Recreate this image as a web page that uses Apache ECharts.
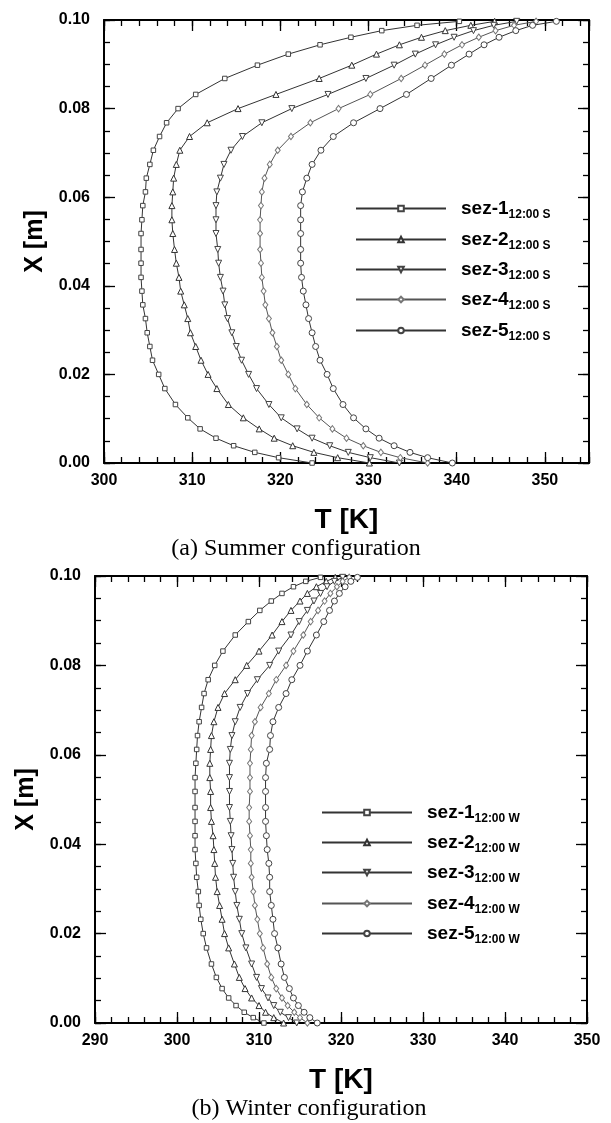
<!DOCTYPE html>
<html>
<head>
<meta charset="utf-8">
<title>Temperature profiles - summer / winter</title>
<script src="https://cdn.jsdelivr.net/npm/echarts@6/dist/echarts.min.js"></script>
<style>
  html, body { margin: 0; padding: 0; background: #fff; }
  #chart { width: 611px; height: 1123px; }
</style>
</head>
<body>
<div id="chart"></div>
<script>
// wall-normal position of the mesh nodes [m], same for every profile
const xLevels = [0.0000, 0.0012, 0.0024, 0.0039, 0.0056, 0.0077, 0.0102, 0.0132, 0.0168, 0.0200,
                 0.0232, 0.0263, 0.0294, 0.0326, 0.0357, 0.0388, 0.0419, 0.0451, 0.0482, 0.0518,
                 0.0549, 0.0581, 0.0612, 0.0643, 0.0674, 0.0706, 0.0737, 0.0768, 0.0800, 0.0832,
                 0.0868, 0.0898, 0.0923, 0.0944, 0.0961, 0.0976, 0.0988, 0.0997];

// (a) summer, 12:00 - temperature [K] at each level
const sez1Summer = [323.6, 319.8, 317.1, 314.7, 312.7, 310.9, 309.5, 308.1, 306.9, 306.2, 305.5, 305.2, 304.9, 304.7, 304.4, 304.3, 304.2, 304.2, 304.2,
                    304.2, 304.3, 304.4, 304.7, 304.8, 305.2, 305.6, 306.3, 307.1, 308.4, 310.4, 313.7, 317.4, 320.9, 324.5, 328.0, 331.5, 335.5, 340.3];
const sez2Summer = [330.1, 326.5, 323.8, 321.4, 319.3, 317.6, 315.8, 314.1, 312.8, 311.8, 311.0, 310.4, 309.8, 309.5, 309.1, 308.7, 308.5, 308.2, 308.0,
                    307.8, 307.7, 307.7, 307.8, 307.9, 308.2, 308.6, 309.7, 311.7, 315.2, 319.5, 324.4, 328.1, 330.9, 333.5, 336.0, 338.7, 341.6, 344.3];
const sez3Summer = [333.5, 330.2, 327.7, 325.6, 323.6, 321.9, 320.1, 318.7, 317.3, 316.4, 315.6, 315.0, 314.5, 314.0, 313.7, 313.5, 313.2, 313.0, 312.9,
                    312.7, 312.7, 312.7, 312.8, 313.2, 313.6, 314.4, 315.7, 317.9, 321.3, 325.4, 329.7, 332.9, 335.3, 337.6, 339.7, 341.9, 344.2, 346.8];
const sez4Summer = [336.7, 333.6, 331.4, 329.4, 327.5, 325.9, 324.4, 323.0, 321.7, 320.9, 320.1, 319.6, 319.1, 318.7, 318.3, 318.1, 317.9, 317.8, 317.7,
                    317.7, 317.7, 317.8, 317.9, 318.2, 318.8, 319.7, 321.2, 323.4, 326.6, 330.2, 333.7, 336.4, 338.6, 340.6, 342.5, 344.4, 346.5, 349.0];
const sez5Summer = [339.5, 336.7, 334.7, 332.9, 331.2, 329.7, 328.3, 327.1, 326.0, 325.3, 324.5, 324.0, 323.6, 323.2, 322.9, 322.6, 322.4, 322.3, 322.3,
                    322.3, 322.3, 322.3, 322.5, 323.0, 323.6, 324.6, 326.0, 328.3, 331.3, 334.3, 337.1, 339.4, 341.4, 343.1, 344.8, 346.7, 348.6, 351.3];

// (b) winter, 12:00
const sez1Winter = [310.6, 309.3, 308.2, 307.2, 306.3, 305.5, 304.8, 304.2, 303.6, 303.2, 302.9, 302.7, 302.6, 302.4, 302.3, 302.2, 302.2, 302.2, 302.2,
                    302.2, 302.2, 302.3, 302.4, 302.5, 302.7, 303.0, 303.3, 303.8, 304.6, 305.6, 307.1, 308.7, 310.1, 311.5, 312.8, 314.2, 315.7, 317.5];
const sez2Winter = [313.0, 311.8, 310.8, 310.0, 309.1, 308.3, 307.6, 307.0, 306.3, 305.8, 305.5, 305.2, 304.9, 304.7, 304.6, 304.5, 304.4, 304.2, 304.1,
                    304.1, 304.0, 304.0, 304.1, 304.2, 304.5, 305.0, 305.8, 307.1, 308.5, 310.0, 311.6, 312.8, 313.9, 315.0, 315.9, 317.0, 318.2, 319.3];
const sez3Winter = [314.6, 313.6, 312.6, 311.8, 311.1, 310.3, 309.7, 309.1, 308.4, 307.9, 307.6, 307.3, 307.1, 306.9, 306.8, 306.7, 306.6, 306.5, 306.4,
                    306.4, 306.4, 306.4, 306.5, 306.7, 307.1, 307.7, 308.6, 309.8, 311.3, 312.4, 313.9, 314.9, 315.9, 316.7, 317.5, 318.3, 319.2, 320.2];
const sez4Winter = [315.9, 315.0, 314.3, 313.5, 312.8, 312.1, 311.5, 311.0, 310.5, 310.1, 309.8, 309.5, 309.3, 309.1, 309.0, 309.0, 308.9, 308.8, 308.8,
                    308.9, 308.9, 308.9, 309.0, 309.1, 309.5, 310.2, 311.2, 312.1, 313.3, 314.2, 315.4, 316.3, 317.2, 318.0, 318.7, 319.5, 320.2, 321.0];
const sez5Winter = [317.1, 316.2, 315.5, 314.8, 314.2, 313.7, 313.1, 312.7, 312.3, 311.9, 311.7, 311.5, 311.3, 311.3, 311.2, 311.0, 310.9, 310.8, 310.8,
                    310.8, 310.8, 310.9, 311.3, 311.4, 311.7, 312.4, 313.3, 314.0, 315.0, 315.9, 317.0, 317.9, 318.6, 319.2, 319.8, 320.5, 321.2, 322.0];

const sections = ['sez-1', 'sez-2', 'sez-3', 'sez-4', 'sez-5'];
const summerTag = '12:00 S';
const winterTag = '12:00 W';
const xRangeSummer = [300, 355];
const xRangeWinter = [290, 350];
const yRange = [0, 0.1];

const FONT = 'Liberation Sans';
// marker look of each section (Tecplot style hollow symbols)
const markers = [
  { symbol: 'rect', size: 4.5, rotate: 0, line: '#333', edge: '#444' },
  { symbol: 'triangle', size: 6, rotate: 0, line: '#333', edge: '#333' },
  { symbol: 'triangle', size: 6, rotate: 180, line: '#333', edge: '#444' },
  { symbol: 'diamond', size: [5, 6.5], rotate: 0, line: '#555', edge: '#777' },
  { symbol: 'circle', size: 6, rotate: 0, line: '#333', edge: '#444' }
];

// one axis of the frame; major axes carry line + long ticks, minor ones only short ticks
function frameAxis(grid, pos, range, step, major, labelled, name, nameGap, nameSize) {
  return {
    type: 'value', gridIndex: grid, position: pos,
    min: range[0], max: range[1], interval: step,
    axisLine: { show: major, onZero: false, lineStyle: { color: '#000', width: 2 } },
    axisTick: { show: true, inside: true, length: major ? 11 : 6, lineStyle: { color: '#000', width: 1.3 } },
    axisLabel: {
      show: labelled,
      margin: pos === 'left' ? 14 : 10,
      fontFamily: FONT, fontSize: 16, fontWeight: 'bold', color: '#000',
      formatter: v => {
        if (Math.abs(v / step - Math.round(v / step)) > 1e-6) return '';
        return pos === 'left' ? v.toFixed(2) : String(Math.round(v));
      }
    },
    splitLine: { show: false },
    name: labelled ? name : '',
    nameLocation: 'middle',
    nameGap: nameGap,
    nameTextStyle: { fontFamily: FONT, fontSize: nameSize || 28, fontWeight: 'bold', color: '#000' }
  };
}

function xAxesFor(grid, range) {
  return [
    frameAxis(grid, 'bottom', range, 10, true, true, 'T [K]', 43, 28),
    frameAxis(grid, 'bottom', range, 2, false, false),
    frameAxis(grid, 'top', range, 10, true, false),
    frameAxis(grid, 'top', range, 2, false, false)
  ];
}

function yAxesFor(grid) {
  return [
    frameAxis(grid, 'left', yRange, 0.02, true, true, 'X [m]', 46, 25),
    frameAxis(grid, 'left', yRange, 0.005, false, false),
    frameAxis(grid, 'right', yRange, 0.02, true, false),
    frameAxis(grid, 'right', yRange, 0.005, false, false)
  ];
}

function profile(name, temps, k, axisIndex) {
  const m = markers[k];
  return {
    name: name, type: 'line',
    xAxisIndex: axisIndex, yAxisIndex: axisIndex,
    data: xLevels.map((x, i) => [temps[i], x]),
    symbol: m.symbol, symbolSize: m.size, symbolRotate: m.rotate,
    showSymbol: true, clip: false, smooth: false,
    lineStyle: { color: m.line, width: 1 },
    itemStyle: { color: '#fff', borderColor: m.edge, borderWidth: 1 },
    emphasis: { disabled: true },
    z: 3 + k
  };
}

function legendRow(name, left, top) {
  return {
    data: [name], left: left, top: top, padding: 0, itemGap: 0,
    itemWidth: 90, itemHeight: 7, selectedMode: false,
    formatter: n => '{main|' + n.split('_')[0] + '}{sub|' + n.split('_')[1] + '}',
    textStyle: {
      rich: {
        main: { fontFamily: FONT, fontSize: 19, fontWeight: 'bold', color: '#000', lineHeight: 24, padding: [0, 0, 0, 10] },
        sub: { fontFamily: FONT, fontSize: 12, fontWeight: 'bold', color: '#000', lineHeight: 11, padding: [13, 0, 0, 0] }
      }
    }
  };
}

const summerSets = [sez1Summer, sez2Summer, sez3Summer, sez4Summer, sez5Summer];
const winterSets = [sez1Winter, sez2Winter, sez3Winter, sez4Winter, sez5Winter];

const series = [];
const legends = [];
const summerRows = [196, 227, 257, 287, 318];
const winterRows = [800, 830, 860, 891, 921];
sections.forEach((s, k) => {
  const nS = s + '_' + summerTag;
  const nW = s + '_' + winterTag;
  series.push(profile(nS, summerSets[k], k, 0));
  series.push(profile(nW, winterSets[k], k, 4));
  legends.push(legendRow(nS, 355, summerRows[k]));
  legends.push(legendRow(nW, 321, winterRows[k]));
});

const chart = echarts.init(document.getElementById('chart'), null, { renderer: 'canvas' });
chart.setOption({
  animation: false,
  backgroundColor: '#fff',
  grid: [
    { left: 104, top: 20, width: 485, height: 443, outerBoundsMode: 'none' },
    { left: 95, top: 576, width: 492, height: 447, outerBoundsMode: 'none' }
  ],
  xAxis: xAxesFor(0, xRangeSummer).concat(xAxesFor(1, xRangeWinter)),
  yAxis: yAxesFor(0).concat(yAxesFor(1)),
  title: [
    { text: '(a) Summer configuration', left: 296, top: 537, textAlign: 'center', padding: 0,
      textStyle: { fontFamily: 'Liberation Serif', fontSize: 24, fontWeight: 'normal', color: '#000' } },
    { text: '(b) Winter configuration', left: 309, top: 1097, textAlign: 'center', padding: 0,
      textStyle: { fontFamily: 'Liberation Serif', fontSize: 24, fontWeight: 'normal', color: '#000' } }
  ],
  legend: legends,
  series: series
});
</script>
</body>
</html>
